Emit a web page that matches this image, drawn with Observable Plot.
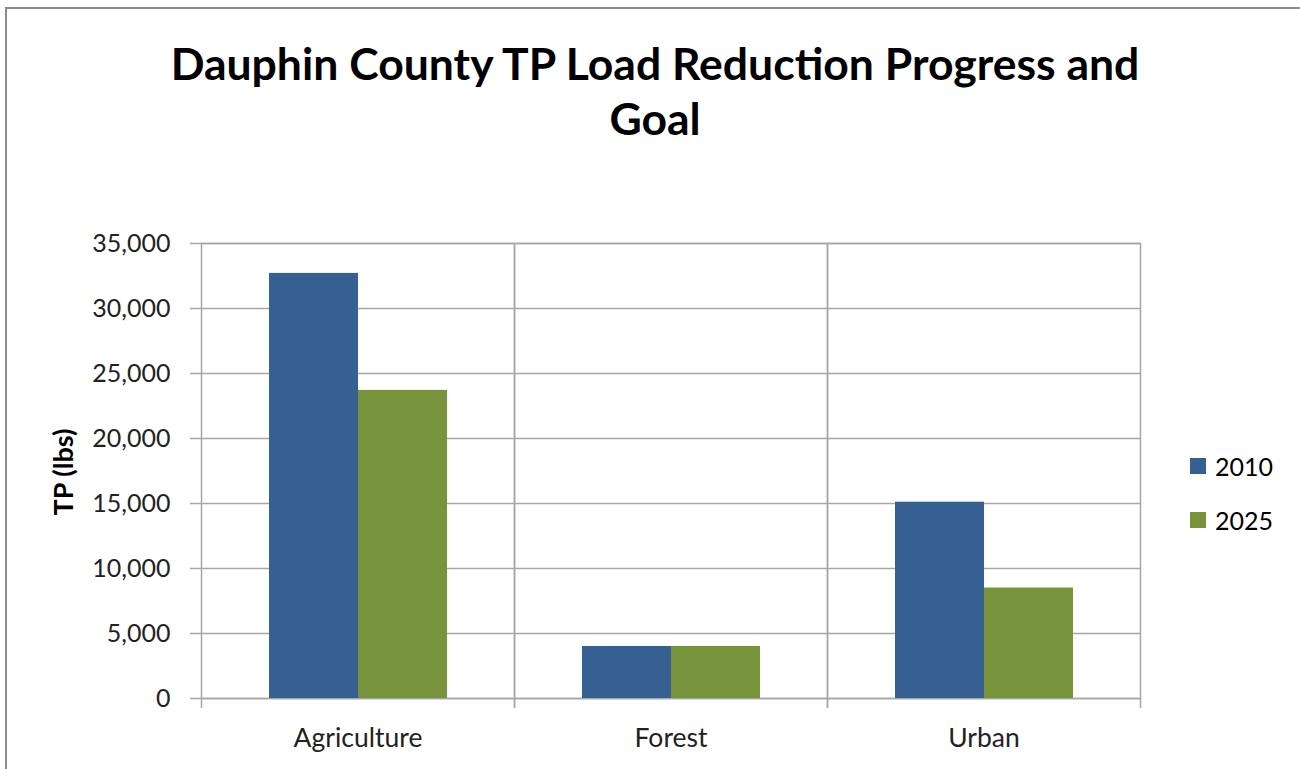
<!DOCTYPE html>
<html>
<head>
<meta charset="utf-8">
<script src="https://cdn.jsdelivr.net/npm/d3@7"></script>
<script src="https://cdn.jsdelivr.net/npm/@observablehq/plot@0.6"></script>
<style>
  html, body { margin: 0; padding: 0; background: #ffffff; }
  #wrap { position: relative; width: 1300px; height: 769px; overflow: hidden; background: #fff; font-family: Lato, "Open Sans", sans-serif; }
  #border { position: absolute; left: 5px; top: 7px; width: 1400px; height: 900px; border-left: 2px solid #8c8c8c; border-top: 2px solid #8c8c8c; box-sizing: border-box; }
  #title { position: absolute; left: 0; top: 35px; width: 1310px; text-align: center; font-weight: bold; font-size: 44.5px; line-height: 55px; color: #000; }
  #chart { position: absolute; left: 0; top: 180px; }
  #ylabel { position: absolute; left: 62px; top: 472px; transform: translate(-50%, -50%) rotate(-90deg); font-family: Lato, "Open Sans", sans-serif; font-weight: bold; font-size: 27px; white-space: nowrap; color: #000; }
  #legend { position: absolute; left: 1190px; top: 448px; font-size: 25px; color: #000; }
  .item { display: flex; align-items: center; height: 36px; margin-bottom: 18px; }
  .sw { width: 16px; height: 16px; margin-right: 9px; }
</style>
</head>
<body>
<div id="wrap">
  <div id="border"></div>
  <div id="title">Dauphin County TP Load Reduction Progress and<br>Goal</div>
  <div id="chart"></div>
  <div id="ylabel">TP (lbs)</div>
  <div id="legend"></div>
</div>
<script>
const categories = ["Agriculture", "Forest", "Urban"];
const years = ["2010", "2025"];
const load2010 = [32700, 4000, 15100];
const load2025 = [23700, 4000, 8500];
const yTicks = [0, 5000, 10000, 15000, 20000, 25000, 30000, 35000];
const colors = ["#376092", "#77933C"];

const data = categories.flatMap((c, i) => [
  {category: c, year: years[0], value: load2010[i]},
  {category: c, year: years[1], value: load2025[i]}
]);

const gridColor = "#a6a6a6";
const halfBand = (1300 - 201 - 160) / categories.length / 2;

const chart = Plot.plot({
  width: 1300,
  height: 589,
  marginLeft: 201,
  marginRight: 160,
  marginTop: 63,
  marginBottom: 71,
  style: {fontFamily: "Lato, 'Open Sans', sans-serif", color: "#222", background: "transparent"},
  fx: {domain: categories, padding: 0, label: null},
  x: {domain: years, paddingInner: 0, paddingOuter: 0.75, axis: null},
  y: {domain: [0, 35000], label: null},
  color: {domain: years, range: colors},
  marks: [
    Plot.gridY(yTicks, {stroke: gridColor, strokeOpacity: 1, strokeWidth: 1.5}),
    Plot.frame({stroke: gridColor, strokeWidth: 1.5}),
    Plot.barY(data, {fx: "category", x: "year", y: "value", fill: "year"}),
    Plot.axisY(yTicks, {tickSize: 11, tickPadding: 20, tickFormat: d3.format(","), fontSize: 25, stroke: gridColor, strokeWidth: 1.5, label: null, fill: "#222"}),
    Plot.axisFx({anchor: "bottom", tickSize: 10, text: null, dx: -halfBand, stroke: gridColor, strokeWidth: 1.5, label: null}),
    Plot.axisFx([categories[categories.length - 1]], {anchor: "bottom", tickSize: 10, text: null, dx: halfBand, stroke: gridColor, strokeWidth: 1.5, label: null}),
    Plot.axisFx({anchor: "bottom", tickSize: 0, tickPadding: 30, fontSize: 26.5, label: null, fill: "#222"})
  ]
});
document.getElementById("chart").appendChild(chart);

const legend = document.getElementById("legend");
years.forEach((y, i) => {
  const item = document.createElement("div");
  item.className = "item";
  const sw = document.createElement("div");
  sw.className = "sw";
  sw.style.background = colors[i];
  const t = document.createElement("span");
  t.textContent = y;
  item.appendChild(sw);
  item.appendChild(t);
  legend.appendChild(item);
});
</script>
</body>
</html>
